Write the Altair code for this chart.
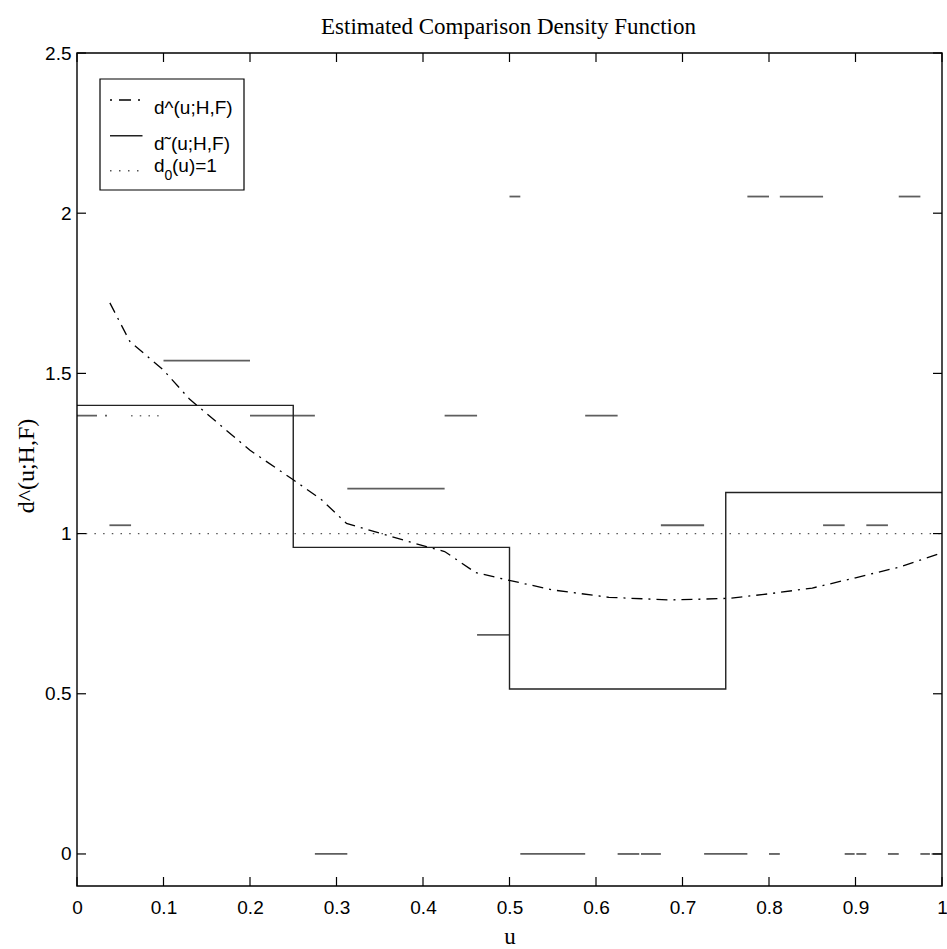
import altair as alt
import pandas as pd

# ---------------- data ----------------
x_ticks = [0, 0.1, 0.2, 0.3, 0.4, 0.5, 0.6, 0.7, 0.8, 0.9, 1.0]
y_ticks = [0, 0.5, 1.0, 1.5, 2.0, 2.5]

# estimated comparison density d^(u;H,F) (dash-dot curve)
curve_u = [0.038, 0.061, 0.1, 0.13, 0.2, 0.25, 0.283, 0.3115, 0.344, 0.404, 0.425,
           0.461, 0.498, 0.55, 0.615, 0.685, 0.719, 0.754, 0.8, 0.85, 0.9, 0.95, 1.0]
curve_d = [1.72, 1.60, 1.51, 1.42, 1.26, 1.168, 1.105, 1.032, 1.006, 0.959, 0.944,
           0.878, 0.855, 0.824, 0.801, 0.793, 0.795, 0.798, 0.812, 0.83, 0.862, 0.895, 0.94]

# step estimate d~(u;H,F)
step_u = [0.0, 0.25, 0.5, 0.75, 1.0]
step_d = [1.40, 0.957, 0.515, 1.128, 1.128]

# reference d0(u)=1
ref_u = [0.0, 1.0]
ref_d = [1.0, 1.0]

# raw histogram pieces (gray horizontal segments)
hist_u0 = [0.275, 0.5125, 0.625, 0.652, 0.725, 0.8, 0.8875, 0.901, 0.9375, 0.975, 0.988,
           0.5, 0.775, 0.8125, 0.95,
           0.1,
           0.2, 0.425, 0.5875,
           0.3125,
           0.0375, 0.675, 0.8625, 0.9125,
           0.4625]
hist_u1 = [0.3125, 0.5875, 0.65, 0.675, 0.775, 0.8125, 0.899, 0.9125, 0.95, 0.986, 1.0,
           0.5125, 0.8, 0.8625, 0.975,
           0.2,
           0.275, 0.4625, 0.625,
           0.425,
           0.0625, 0.725, 0.8875, 0.9375,
           0.5]
hist_d = [0.0, 0.0, 0.0, 0.0, 0.0, 0.0, 0.0, 0.0, 0.0, 0.0, 0.0,
          2.052, 2.052, 2.052, 2.052,
          1.54,
          1.368, 1.368, 1.368,
          1.14,
          1.026, 1.026, 1.026, 1.026,
          0.684]

# faint pieces near the left edge
hist_dash_u0 = [0.0]
hist_dash_u1 = [0.0375]
hist_dash_d = [1.368]
hist_dot_u0 = [0.0625]
hist_dot_u1 = [0.1]
hist_dot_d = [1.368]

legend_labels = ["d^(u;H,F)", "d\u02dc(u;H,F)", "d", "0", "(u)=1"]
title_text = "Estimated Comparison Density Function"
x_title = "u"
y_title = "d^(u;H,F)"

# ---------------- layout ----------------
W, H = 865, 833
SANS = "Liberation Sans"
SERIF = "Liberation Serif"

xscale = alt.Scale(domain=[0, 1], nice=False, zero=False)
yscale = alt.Scale(domain=[-0.1, 2.5], nice=False, zero=False)

xaxis = alt.Axis(values=x_ticks, format="~g", ticks=False, domain=False, grid=False,
                 labelFont=SANS, labelFontSize=19, labelColor="black", labelPadding=12,
                 labelFlush=False,
                 title=x_title, titleFont=SERIF, titleFontSize=23, titleFontWeight="normal",
                 titleColor="black", titleBaseline="alphabetic", titleY=57, titleX=W / 2,
                 titleAlign="center")
yaxis = alt.Axis(values=y_ticks, format="~g", ticks=False, domain=False, grid=False,
                 labelFont=SANS, labelFontSize=19, labelColor="black", labelPadding=6,
                 labelFlush=False,
                 title=y_title, titleFont=SERIF, titleFontSize=24, titleFontWeight="normal",
                 titleColor="black", titleAngle=270, titleBaseline="alphabetic",
                 titleX=-44, titleY=H / 2 - 4, titleAlign="center")


def X(f):
    return alt.X(f, type="quantitative", scale=xscale, axis=xaxis)


def Y(f):
    return alt.Y(f, type="quantitative", scale=yscale, axis=yaxis)


curve_df = pd.DataFrame({"u": curve_u, "d": curve_d})
step_df = pd.DataFrame({"u": step_u, "d": step_d})
ref_df = pd.DataFrame({"u": ref_u, "d": ref_d})
hist_df = pd.DataFrame({"u0": hist_u0, "u1": hist_u1, "d": hist_d})
hdash_df = pd.DataFrame({"u0": hist_dash_u0, "u1": hist_dash_u1, "d": hist_dash_d})
hdot_df = pd.DataFrame({"u0": hist_dot_u0, "u1": hist_dot_u1, "d": hist_dot_d})
xt_df = pd.DataFrame({"u": x_ticks})
yt_df = pd.DataFrame({"d": y_ticks})
one = pd.DataFrame({"k": [0]})

hist = alt.Chart(hist_df).mark_rule(color="#5e5e5e", strokeWidth=1.8).encode(
    x=X("u0"), x2="u1", y=Y("d"))
hdash = alt.Chart(hdash_df).mark_rule(color="#5e5e5e", strokeWidth=1.8,
                                      strokeDash=[20, 8, 2, 100]).encode(
    x=X("u0"), x2="u1", y=Y("d"))
hdot = alt.Chart(hdot_df).mark_rule(color="#6e6e6e", strokeWidth=1.5,
                                    strokeDash=[1.5, 7.2]).encode(
    x=X("u0"), x2="u1", y=Y("d"))

ref = alt.Chart(ref_df).mark_line(color="#555555", strokeWidth=1.4,
                                  strokeDash=[1.5, 7.2]).encode(x=X("u"), y=Y("d"))
step = alt.Chart(step_df).mark_line(color="#222222", strokeWidth=1.4,
                                    interpolate="step-after").encode(x=X("u"), y=Y("d"))
curve = alt.Chart(curve_df).mark_line(color="black", strokeWidth=1.3,
                                      strokeDash=[11, 6, 2, 6]).encode(x=X("u"), y=Y("d"))

# inward ticks on all four sides
tick_style = dict(color="black", strokeWidth=1.2)
xt_bottom = alt.Chart(xt_df).mark_rule(**tick_style).encode(
    x=X("u"), y=alt.value(H), y2=alt.value(H - 9))
xt_top = alt.Chart(xt_df).mark_rule(**tick_style).encode(
    x=X("u"), y=alt.value(0), y2=alt.value(9))
yt_left = alt.Chart(yt_df).mark_rule(**tick_style).encode(
    y=Y("d"), x=alt.value(0), x2=alt.value(9))
yt_right = alt.Chart(yt_df).mark_rule(**tick_style).encode(
    y=Y("d"), x=alt.value(W), x2=alt.value(W - 9))

# frame
frame = alt.Chart(one).mark_rect(fill=None, stroke="black", strokeWidth=1.4).encode(
    x=alt.value(0), x2=alt.value(W), y=alt.value(0), y2=alt.value(H))

# title as text above the plot
title = alt.Chart(one).mark_text(align="center", baseline="alphabetic", font=SERIF,
                                 fontSize=23, color="black").encode(
    x=alt.value(W / 2 - 1), y=alt.value(-19), text=alt.value(title_text))

# legend box
lbox = alt.Chart(one).mark_rect(fill="white", stroke="black", strokeWidth=1.2).encode(
    x=alt.value(23), x2=alt.value(167), y=alt.value(26), y2=alt.value(137))
l1 = alt.Chart(one).mark_rule(color="black", strokeWidth=1.3,
                              strokeDash=[2, 7, 12, 7, 2, 100]).encode(
    x=alt.value(33), x2=alt.value(63), y=alt.value(47))
l2 = alt.Chart(one).mark_rule(color="#222222", strokeWidth=1.4).encode(
    x=alt.value(33), x2=alt.value(65.5), y=alt.value(82.7))
l3 = alt.Chart(one).mark_rule(color="#555555", strokeWidth=1.4,
                              strokeDash=[1.5, 7.5]).encode(
    x=alt.value(33), x2=alt.value(63), y=alt.value(117.7))


def ltext(txt, x, y, size=19):
    return alt.Chart(one).mark_text(align="left", baseline="alphabetic", font=SANS,
                                    fontSize=size, color="black").encode(
        x=alt.value(x), y=alt.value(y), text=alt.value(txt))


t1 = ltext(legend_labels[0], 77, 61)
t2 = ltext(legend_labels[1], 77, 97)
t3a = ltext(legend_labels[2], 77, 119)
t3b = ltext(legend_labels[3], 87.5, 127, size=14)
t3c = ltext(legend_labels[4], 95, 119)

chart = alt.layer(
    hist, hdash, hdot, ref, step, curve,
    xt_bottom, xt_top, yt_left, yt_right, frame, title,
    lbox, l1, l2, l3, t1, t2, t3a, t3b, t3c,
).properties(
    width=W, height=H,
    padding={"left": 77, "top": 53, "right": 5, "bottom": 63},
    autosize=alt.AutoSizeParams(type="none"),
).configure(
    background="white",
    view=alt.ViewConfig(stroke=None),
)

chart.save("out.html", embed_options={"renderer": "svg", "actions": False})
